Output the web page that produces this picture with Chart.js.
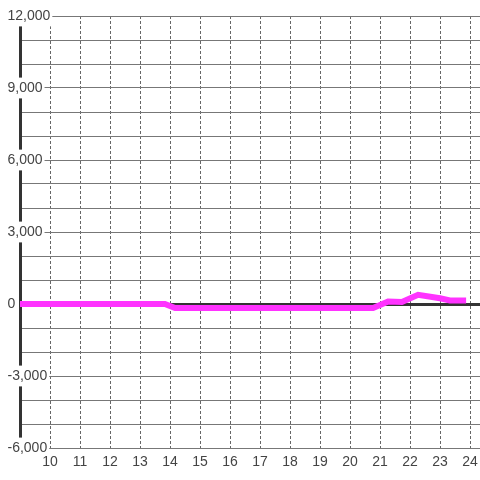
<!DOCTYPE html>
<html>
<head>
<meta charset="utf-8">
<style>
	html, body { margin: 0; padding: 0; background: #fff; }
	#chart { display: block; }
</style>
</head>
<body>
<canvas id="chart" width="480" height="480"></canvas>

<script src="https://cdn.jsdelivr.net/npm/chart.js@4/dist/chart.umd.min.js"></script>
<script type="text/javascript">
	// Данные
	var hours  = [9, 13.83, 14.17, 20.77, 21.27, 21.73, 22.27, 23.0, 23.33, 23.87];
	var values = [0, 0, -170, -170, 100, 80, 380, 240, 150, 150];

	var xTicks = [10, 11, 12, 13, 14, 15, 16, 17, 18, 19, 20, 21, 22, 23, 24];
	var yLabels = [-6000, -3000, 0, 3000, 6000, 9000, 12000];

	var points = hours.map(function(h, i){ return {x: h, y: values[i]}; });

	var font = {family: "'Liberation Sans', Arial, sans-serif", size: 14};

	new Chart(document.getElementById("chart"), {
		type: 'line',
		data: {
			datasets: [{
				data: points,
				borderColor: "#ff33ff",
				borderWidth: 6,
				pointRadius: 0,
				tension: 0,
				fill: false
			}]
		},
		options: {
			responsive: false,
			animation: false,
			layout: {
				padding: {left: 20, top: 16, right: 0, bottom: 0}
			},
			plugins: {
				legend: {display: false},
				tooltip: {enabled: false}
			},
			scales: {
				x: {
					type: 'linear',
					min: 9,
					max: 24.333,
					afterBuildTicks: function(scale){
						scale.ticks = xTicks.map(function(v){ return {value: v}; });
					},
					afterFit: function(scale){
						scale.height = 32;
						scale.paddingLeft = 0;
						scale.paddingRight = 0;
					},
					grid: {
						color: "#666",
						lineWidth: 1,
						drawTicks: false
					},
					border: {display: false, dash: [3, 2]},
					ticks: {
						z: 2,
						color: "#444",
						font: font,
						padding: 6,
						maxRotation: 0,
						autoSkip: false
					}
				},
				y: {
					min: -6000,
					max: 12000,
					afterFit: function(scale){
						scale.width = 0;
						scale.paddingTop = 0;
						scale.paddingBottom = 0;
					},
					grid: {
						color: function(ctx){ return ctx.tick && ctx.tick.value === 0 ? "#333" : "#777"; },
						lineWidth: function(ctx){ return ctx.tick && ctx.tick.value === 0 ? 3 : 1; },
						drawTicks: false
					},
					border: {display: true, color: "#333", width: 3},
					ticks: {
						stepSize: 1000,
						mirror: true,
						padding: -12.5,
						z: 1,
						color: "#444",
						font: font,
						showLabelBackdrop: true,
						backdropColor: "#fff",
						backdropPadding: 2,
						autoSkip: false,
						callback: function(v){
							// Подписи только каждые 3000
							return yLabels.indexOf(v) >= 0 ? v.toLocaleString('en-US') : '';
						}
					}
				}
			}
		}
	});
</script>
</body>
</html>
